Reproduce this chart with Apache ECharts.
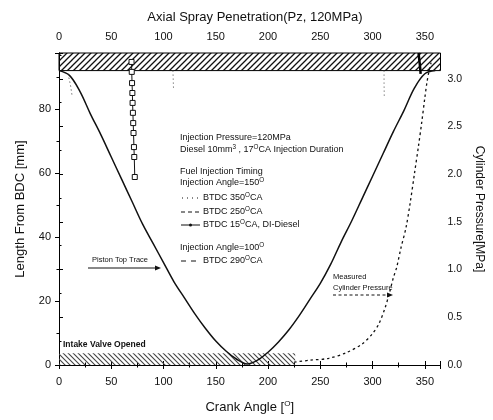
<!DOCTYPE html>
<html>
<head>
<meta charset="utf-8">
<script src="https://cdn.jsdelivr.net/npm/echarts@6/dist/echarts.min.js"></script>
<style>
  html, body { margin: 0; padding: 0; background: #fff; }
  #chart { width: 493px; height: 420px; }
</style>
</head>
<body>
<div id="chart"></div>
<script>
// Piston top trace: crank angle [deg] vs. length from BDC [mm]
const pistonAngle  = [0, 10, 20, 30, 40, 50, 60, 70, 80, 90, 100, 110, 120, 130, 140, 150, 160, 170, 180,
                      190, 200, 210, 220, 230, 240, 250, 260, 270, 280, 290, 300, 310, 320, 330, 340, 350, 360];
const pistonLength = [92, 90.5, 85.5, 78.5, 72, 65, 58, 51, 44, 38, 32, 26, 21, 16, 11.5, 7.5, 4.3, 1.8, 0.3,
                      1.5, 4, 7.2, 11, 15.5, 20.5, 25.5, 31.5, 38.5, 45, 52, 59, 66, 73, 79.5, 86.5, 91, 92];

// Measured cylinder pressure [MPa]
const pressureAngle = [225, 240, 258, 275, 290, 300, 306, 312, 316, 320, 323, 327, 332, 336, 340, 344, 347, 350, 352, 354, 356];
const pressureValue = [0.03, 0.05, 0.07, 0.13, 0.22, 0.33, 0.43, 0.6, 0.75, 0.92, 1.02, 1.22, 1.44, 1.7, 2.0, 2.3, 2.54, 2.8, 2.96, 3.08, 3.17];

// Spray tip traces (crank angle, length from BDC)
const sprayA350Angle  = [8.6, 10, 11.2, 12.4];
const sprayA350Length = [91, 89, 87, 84.4];
const sprayA250Angle  = [109, 109.3, 109.6];
const sprayA250Length = [92, 89, 86];
const sprayA290Angle  = [69.4, 69.6, 69.9, 70.2, 70.4, 70.7, 71, 71.3, 71.7, 72, 72.5];
const sprayA290Length = [94.7, 91.6, 88.1, 85, 81.9, 78.8, 75.6, 72.5, 68.1, 65, 58.75];
const sprayA15Angle   = [344, 344.5, 345, 345.5, 346];
const sprayA15Length  = [97.5, 96, 94.5, 93, 91];
const sprayB310Angle  = [311, 311, 311.2];
const sprayB310Length = [92, 88, 84];

// Shaded regions
const headBand   = { x: [0, 365], y: [92, 97.5] };
const intakeBand = { x: [0, 226], y: [0, 3.7] };

const FONT = 'Liberation Sans, Arial, sans-serif';

function pair(xs, ys) { return xs.map((x, i) => [x, ys[i]]); }

// hatch tile for area fills; dir > 0 draws '/', otherwise '\'
function hatch(size, color, width, dir) {
  const c = document.createElement('canvas');
  c.width = size; c.height = size;
  const g = c.getContext('2d');
  g.strokeStyle = color; g.lineWidth = width;
  g.beginPath();
  if (dir > 0) {
    g.moveTo(-1, size + 1); g.lineTo(size + 1, -1);
    g.moveTo(-2, 2); g.lineTo(2, -2);
    g.moveTo(size - 2, size + 2); g.lineTo(size + 2, size - 2);
  } else {
    g.moveTo(-1, -1); g.lineTo(size + 1, size + 1);
    g.moveTo(size - 2, -2); g.lineTo(size + 2, 2);
    g.moveTo(-2, size - 2); g.lineTo(2, size + 2);
  }
  g.stroke();
  return c;
}

const chart = echarts.init(document.getElementById('chart'), null, { renderer: 'canvas' });

const axisCommon = {
  axisLine: { show: true, lineStyle: { color: '#000', width: 1 } },
  axisTick: { show: true, inside: false, length: 4, lineStyle: { color: '#000' } },
  minorTick: { show: true, splitNumber: 2, length: 2.5, lineStyle: { color: '#000' } },
  splitLine: { show: false },
};

function txt(x, y, text, size, weight) {
  return {
    type: 'text', left: x, top: y - size * 0.6, z: 50,
    style: { text: text, font: (weight || 'normal') + ' ' + size + 'px ' + FONT, fill: '#111',
             rich: { s: { fontSize: size * 0.7, verticalAlign: 'top', fill: '#111', fontFamily: FONT, padding: [0, 0, 3, 0] } } }
  };
}
function seg(x1, y1, x2, y2, dash, w) {
  return { type: 'line', z: 50, shape: { x1, y1, x2, y2 },
           style: { stroke: '#111', lineWidth: w || 1, lineDash: dash || null } };
}
function arrowHead(x, y) {
  return { type: 'polygon', z: 50, shape: { points: [[x, y], [x - 6, y - 2.5], [x - 6, y + 2.5]] }, style: { fill: '#111' } };
}

const option = {
  animation: false,
  backgroundColor: '#fff',
  title: {
    text: 'Axial Spray Penetration(Pz, 120MPa)',
    left: 250, top: 6, textAlign: 'center',
    textStyle: { fontFamily: FONT, fontSize: 13, fontWeight: 'normal', color: '#111' }
  },
  grid: { left: 59, right: 51, top: 53, bottom: 55, containLabel: false },
  xAxis: [
    Object.assign({}, axisCommon, {
      type: 'value', position: 'bottom', min: 0, max: 365, interval: 50,
      name: 'Crank Angle [{s|O}]', nameLocation: 'middle', nameGap: 35,
      nameTextStyle: { fontFamily: FONT, fontSize: 13, color: '#111',
        rich: { s: { fontSize: 8, verticalAlign: 'top', padding: [0, 0, 6, 0], fontFamily: FONT, color: '#111' } } },
      axisLabel: { margin: 11, fontFamily: FONT, fontSize: 11, color: '#111',
        formatter: v => (v % 50 === 0 ? String(v) : '') }
    }),
    Object.assign({}, axisCommon, {
      type: 'value', position: 'top', min: 0, max: 365, interval: 50,
      axisLabel: { margin: 11, fontFamily: FONT, fontSize: 11, color: '#111',
        formatter: v => (v % 50 === 0 ? String(v) : '') }
    })
  ],
  yAxis: [
    Object.assign({}, axisCommon, {
      type: 'value', position: 'left', min: 0, max: 97.5, interval: 20,
      name: 'Length From BDC [mm]', nameLocation: 'middle', nameGap: 32,
      nameTextStyle: { fontFamily: FONT, fontSize: 13, color: '#111' },
      axisLabel: { margin: 8, fontFamily: FONT, fontSize: 11, color: '#111',
        formatter: v => (v % 20 === 0 ? String(v) : '') }
    }),
    Object.assign({}, axisCommon, {
      type: 'value', position: 'right', min: 0, max: 3.27, interval: 0.5,
      name: 'Cylinder Pressure[MPa]', nameLocation: 'middle', nameGap: 28, nameRotate: -90,
      nameTextStyle: { fontFamily: FONT, fontSize: 12, color: '#111' },
      axisLabel: { margin: 7, fontFamily: FONT, fontSize: 10.5, color: '#111',
        formatter: v => (Math.abs(v * 2 - Math.round(v * 2)) < 1e-6 ? v.toFixed(1) : '') }
    })
  ],
  series: [
    {
      name: 'Piston Top Trace', type: 'line', xAxisIndex: 0, yAxisIndex: 0,
      data: pair(pistonAngle, pistonLength), smooth: 0.35, symbol: 'none',
      lineStyle: { color: '#111', width: 1.5 }, z: 5,
      markArea: {
        silent: true, label: { show: false },
        data: [
          [{ coord: [headBand.x[0], headBand.y[0]], itemStyle: { color: { image: hatch(6, '#111', 1.3, 1), repeat: 'repeat' }, borderColor: '#000', borderWidth: 1 } },
           { coord: [headBand.x[1], headBand.y[1]] }],
          [{ coord: [intakeBand.x[0], intakeBand.y[0]], itemStyle: { color: { image: hatch(5, '#444', 1.1, -1), repeat: 'repeat' }, borderWidth: 0 } },
           { coord: [intakeBand.x[1], intakeBand.y[1]] }]
        ]
      }
    },
    {
      name: 'Measured Cylinder Pressure', type: 'line', xAxisIndex: 0, yAxisIndex: 1,
      data: pair(pressureAngle, pressureValue), smooth: 0.3, symbol: 'none',
      lineStyle: { color: '#111', width: 1.3, type: [2.5, 3] }, z: 5
    },
    {
      name: 'BTDC 350', type: 'line', data: pair(sprayA350Angle, sprayA350Length), symbol: 'none',
      lineStyle: { color: '#333', width: 1, type: [1, 3] }, z: 6
    },
    {
      name: 'BTDC 250', type: 'line', data: pair(sprayA250Angle, sprayA250Length), symbol: 'none',
      lineStyle: { color: '#444', width: 1, type: [1, 3] }, z: 6
    },
    {
      name: 'BTDC 310', type: 'line', data: pair(sprayB310Angle, sprayB310Length), symbol: 'none',
      lineStyle: { color: '#444', width: 1, type: [1, 3] }, z: 6
    },
    {
      name: 'BTDC 290', type: 'line', data: pair(sprayA290Angle, sprayA290Length),
      symbol: 'rect', symbolSize: 5,
      itemStyle: { color: '#fff', borderColor: '#111', borderWidth: 1 },
      lineStyle: { color: '#111', width: 1 }, z: 7
    },
    {
      name: 'BTDC 15', type: 'line', data: pair(sprayA15Angle, sprayA15Length),
      symbol: 'none', lineStyle: { color: '#000', width: 2.5 }, z: 7
    }
  ],
  graphic: [
    txt(180, 138, 'Injection Pressure=120MPa', 9),
    txt(180, 150, 'Diesel 10mm{s|3} , 17{s|O}CA Injection Duration', 9),
    txt(180, 172, 'Fuel Injection Timing', 9),
    txt(180, 183, 'Injection Angle=150{s|O}', 9),
    seg(182, 198, 199, 198, [1, 4]),
    txt(203, 198, 'BTDC 350{s|O}CA', 9),
    seg(181, 212, 200, 212, [4, 3]),
    txt(203, 212, 'BTDC 250{s|O}CA', 9),
    seg(181, 225, 200, 225),
    { type: 'circle', z: 51, shape: { cx: 190.5, cy: 225, r: 1.5 }, style: { fill: '#111' } },
    txt(203, 225, 'BTDC 15{s|O}CA, DI-Diesel', 9),
    txt(180, 248, 'Injection Angle=100{s|O}', 9),
    seg(181, 261, 200, 261, [5, 5]),
    txt(203, 261, 'BTDC 290{s|O}CA', 9),

    txt(92, 260, 'Piston Top Trace', 7.5),
    seg(88, 268, 156, 268),
    arrowHead(161, 268),

    txt(333, 277, 'Measured', 7.5),
    txt(333, 288, 'Cylinder Pressure', 7.5),
    seg(333, 295, 387, 295, [3, 2.5]),
    arrowHead(393, 295),

    txt(63, 345, 'Intake Valve Opened', 8.5, 'bold')
  ]
};

chart.setOption(option);
</script>
</body>
</html>
